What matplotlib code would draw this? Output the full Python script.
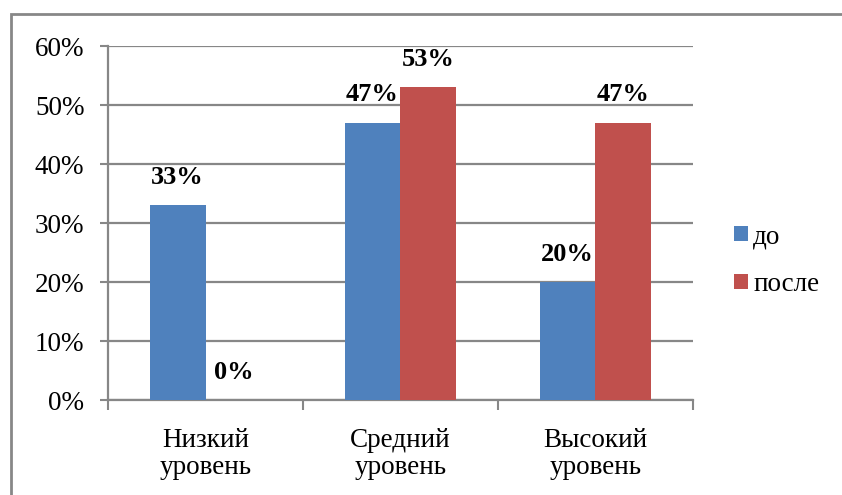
import matplotlib.pyplot as plt
from matplotlib.patches import Rectangle
import numpy as np

categories = ['Низкий\nуровень', 'Средний\nуровень', 'Высокий\nуровень']
before = [33, 47, 20]
after = [0, 53, 47]
series_names = ['до', 'после']

font = 'Liberation Serif'
plt.rcParams['font.family'] = [font, 'DejaVu Serif']

blue = '#4F81BD'
red = '#C0504D'
gray = '#878787'

fig = plt.figure(figsize=(8.42, 4.95), dpi=100)
ax = fig.add_axes([0.1283, 0.1919, 0.823 - 0.1283, 0.907 - 0.1919])

x = np.arange(len(categories))
w = 0.287
b1 = ax.bar(x - w / 2, before, w, color=blue, label=series_names[0], zorder=3)
b2 = ax.bar(x + w / 2, after, w, color=red, label=series_names[1], zorder=3)

# value labels above each bar
for bars, vals in ((b1, before), (b2, after)):
    for rect, v in zip(bars, vals):
        ax.annotate('{}%'.format(v), (rect.get_x() + rect.get_width() / 2, v),
                    xytext=(0, 20), textcoords='offset points',
                    ha='center', va='center', fontsize=19, fontweight='bold',
                    family=font)

ax.set_xlim(-0.5, 2.5)
ax.set_ylim(0, 60)
ax.set_yticks(range(0, 61, 10))
ax.set_yticklabels(['{}%'.format(t) for t in range(0, 61, 10)], family=font)
# major ticks between groups, labels on minor ticks at group centres
ax.set_xticks([-0.5, 0.5, 1.5, 2.5], minor=False)
ax.set_xticklabels([])
ax.set_xticks(x, minor=True)
ax.set_xticklabels(categories, minor=True, linespacing=1.12, family=font)
ax.tick_params(axis='x', which='minor', length=0, pad=20, labelsize=19.5)
ax.tick_params(axis='x', which='major', length=7, width=1.5, color=gray)
ax.tick_params(axis='y', length=6, width=1.5, color=gray, labelsize=19.5, pad=11)

ax.yaxis.grid(True, color=gray, linewidth=1.6, zorder=0)
for s in ('top', 'right'):
    ax.spines[s].set_visible(False)
for s in ('left', 'bottom'):
    ax.spines[s].set_color(gray)
    ax.spines[s].set_linewidth(1.6)

ax.legend(loc='center left', bbox_to_anchor=(0.872, 0.473),
          bbox_transform=fig.transFigure, frameon=False,
          prop={'family': font, 'size': 19.5},
          handlelength=0.5, handleheight=0.5, handletextpad=0.2,
          labelspacing=0.85, borderpad=0, borderaxespad=0)

fig.patches.append(Rectangle((0.013, -0.1), 1.2, 0.972 + 0.1,
                             transform=fig.transFigure, fill=False,
                             edgecolor=gray, linewidth=2))

fig.savefig('out.png', dpi=100)
